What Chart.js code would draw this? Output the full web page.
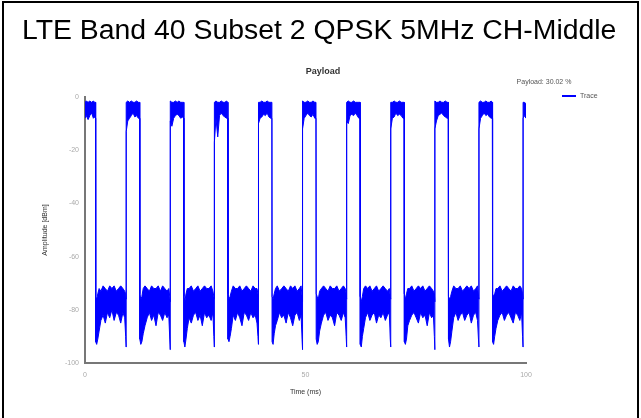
<!DOCTYPE html>
<html>
<head>
<meta charset="utf-8">
<script src="https://cdn.jsdelivr.net/npm/chart.js@4.4.0/dist/chart.umd.min.js"></script>
<style>
  html, body { margin: 0; padding: 0; background: #fff; }
  #frame { position: absolute; left: 2px; top: 1px; width: 633px; height: 430px; border: 2px solid #000; border-bottom: none; }
  #heading { position: absolute; left: 22px; top: 13px; font-family: "Liberation Sans", Arial, sans-serif; font-size: 28.4px; line-height: 32px; color: #000; white-space: nowrap; z-index: 2; }
  #wrap { position: absolute; left: 0; top: 0; width: 641px; height: 418px; z-index: 1; }
</style>
</head>
<body>
<div id="frame"></div>
<div id="heading">LTE Band 40 Subset 2 QPSK 5MHz CH-Middle</div>
<div id="wrap"><canvas id="payload-chart" width="641" height="418"></canvas></div>
<script>
// time axis (ms), one line per 10 ms frame
const times = [
    0, 0.3, 0.7, 1.1, 1.5, 1.9, 2.2, 2.38, 2.42, 2.65, 2.9, 3.2, 3.6, 4.1, 4.6, 5.1, 5.6, 6.1, 6.6, 7.1, 7.6, 8.1, 8.6, 9.0, 9.22, 9.32,
    9.34, 9.7, 10.1, 10.5, 10.9, 11.3, 11.7, 12.1, 12.38, 12.42, 12.65, 12.9, 13.2, 13.6, 14.1, 14.6, 15.1, 15.6, 16.1, 16.6, 17.1, 17.6, 18.1, 18.6, 19.0, 19.22, 19.32,
    19.34, 19.7, 20.1, 20.5, 20.9, 21.3, 21.7, 22.1, 22.38, 22.42, 22.65, 22.9, 23.2, 23.6, 24.1, 24.6, 25.1, 25.6, 26.1, 26.6, 27.1, 27.6, 28.1, 28.6, 29.0, 29.22, 29.32,
    29.34, 29.7, 30.1, 30.5, 30.9, 31.3, 31.7, 32.1, 32.38, 32.42, 32.65, 32.9, 33.2, 33.6, 34.1, 34.6, 35.1, 35.6, 36.1, 36.6, 37.1, 37.6, 38.1, 38.6, 39.0, 39.22, 39.32,
    39.34, 39.7, 40.1, 40.5, 40.9, 41.3, 41.7, 42.1, 42.38, 42.42, 42.65, 42.9, 43.2, 43.6, 44.1, 44.6, 45.1, 45.6, 46.1, 46.6, 47.1, 47.6, 48.1, 48.6, 49.0, 49.22, 49.32,
    49.34, 49.7, 50.1, 50.5, 50.9, 51.3, 51.7, 52.1, 52.38, 52.42, 52.65, 52.9, 53.2, 53.6, 54.1, 54.6, 55.1, 55.6, 56.1, 56.6, 57.1, 57.6, 58.1, 58.6, 59.0, 59.22, 59.32,
    59.34, 59.7, 60.1, 60.5, 60.9, 61.3, 61.7, 62.1, 62.38, 62.42, 62.65, 62.9, 63.2, 63.6, 64.1, 64.6, 65.1, 65.6, 66.1, 66.6, 67.1, 67.6, 68.1, 68.6, 69.0, 69.22, 69.32,
    69.34, 69.7, 70.1, 70.5, 70.9, 71.3, 71.7, 72.1, 72.38, 72.42, 72.65, 72.9, 73.2, 73.6, 74.1, 74.6, 75.1, 75.6, 76.1, 76.6, 77.1, 77.6, 78.1, 78.6, 79.0, 79.22, 79.32,
    79.34, 79.7, 80.1, 80.5, 80.9, 81.3, 81.7, 82.1, 82.38, 82.42, 82.65, 82.9, 83.2, 83.6, 84.1, 84.6, 85.1, 85.6, 86.1, 86.6, 87.1, 87.6, 88.1, 88.6, 89.0, 89.22, 89.32,
    89.34, 89.7, 90.1, 90.5, 90.9, 91.3, 91.7, 92.1, 92.38, 92.42, 92.65, 92.9, 93.2, 93.6, 94.1, 94.6, 95.1, 95.6, 96.1, 96.6, 97.1, 97.6, 98.1, 98.6, 99.0, 99.22, 99.32,
    99.34, 99.6, 100
];

// upper edge of the trace (dBm)
const traceTop = [
    -2, -1.5, -2, -1.5, -2, -1.5, -2, -2, -75, -76, -74, -72, -73, -71, -72, -73, -71, -72, -71, -73, -72, -71, -72, -73, -74, -76,
    -2, -1.5, -2, -1.5, -2, -2, -1.5, -2, -2, -74, -76, -75, -72, -71, -72, -73, -71, -72, -72, -71, -73, -71, -72, -73, -72, -75, -77,
    -1.5, -2, -2, -1.5, -2, -1.5, -2, -2, -2, -75, -77, -74, -72, -72, -71, -73, -72, -71, -73, -72, -71, -72, -72, -71, -73, -75, -76,
    -2, -1.5, -2, -2, -1.5, -2, -2, -1.5, -2, -74, -76, -75, -73, -71, -72, -72, -71, -73, -72, -71, -72, -73, -71, -72, -72, -74, -76,
    -2, -2, -1.5, -2, -2, -1.5, -2, -2, -2, -75, -76, -74, -72, -71, -73, -72, -71, -72, -73, -71, -72, -71, -73, -72, -71, -75, -77,
    -1.5, -2, -2, -1.5, -2, -2, -1.5, -2, -2, -74, -75, -76, -73, -72, -71, -72, -73, -71, -72, -72, -71, -73, -72, -71, -72, -74, -76,
    -2, -1.5, -2, -2, -1.5, -2, -2, -2, -2, -75, -77, -75, -72, -71, -72, -71, -73, -72, -71, -73, -72, -71, -72, -73, -72, -75, -76,
    -2, -2, -1.5, -2, -2, -1.5, -2, -2, -2, -74, -76, -74, -72, -72, -71, -73, -72, -71, -72, -71, -73, -72, -71, -72, -73, -74, -77,
    -1.5, -2, -2, -1.5, -2, -2, -1.5, -2, -2, -75, -76, -75, -73, -71, -72, -72, -71, -73, -72, -71, -72, -71, -73, -72, -71, -75, -76,
    -2, -1.5, -2, -2, -1.5, -2, -2, -1.5, -2, -74, -75, -74, -72, -72, -71, -73, -72, -71, -72, -73, -71, -72, -72, -71, -72, -74, -76,
    -2, -2, -2.5
];

// lower edge of the trace (dBm)
const traceBottom = [
    -8, -7, -8.5, -7, -6, -8, -7.5, -8, -92, -93, -91, -88, -84, -82, -85, -81, -83, -80, -84, -81, -82, -85, -81, -83, -90, -94,
    -13, -9, -8, -7, -6, -7.5, -7, -8, -8, -91, -93, -92, -89, -86, -83, -81, -84, -82, -86, -81, -82, -84, -81, -83, -82, -91, -95,
    -9, -11, -8, -7, -6.5, -7, -8, -7.5, -8, -92, -94, -91, -87, -83, -85, -82, -81, -84, -82, -86, -81, -83, -82, -84, -81, -90, -94,
    -17, -8, -15, -7, -6, -7, -7.5, -8, -8, -91, -92, -90, -87, -82, -84, -81, -83, -86, -81, -82, -84, -81, -83, -82, -85, -90, -93,
    -10, -8, -7.5, -6.5, -7, -6, -7.5, -8, -8, -92, -93, -89, -86, -84, -81, -83, -82, -85, -81, -83, -86, -82, -81, -84, -82, -91, -95,
    -12, -8, -7, -6, -7, -7.5, -6.5, -8, -8, -91, -93, -92, -88, -85, -82, -81, -84, -82, -83, -86, -81, -82, -84, -81, -83, -90, -94,
    -9, -10, -7, -6.5, -7, -6, -7, -8, -8, -93, -94, -90, -87, -83, -81, -84, -82, -81, -85, -82, -83, -81, -84, -82, -81, -91, -94,
    -12, -8, -7.5, -6, -7, -6.5, -7, -8, -8, -92, -93, -91, -86, -84, -82, -81, -83, -85, -81, -83, -82, -86, -81, -83, -82, -90, -95,
    -12, -9, -7, -6.5, -6, -7, -7.5, -8, -8, -91, -94, -92, -88, -83, -81, -84, -82, -81, -84, -82, -81, -85, -82, -81, -84, -91, -94,
    -12, -8, -7, -6, -7, -6.5, -7.5, -8, -8, -92, -93, -90, -87, -84, -82, -81, -84, -82, -81, -83, -85, -81, -82, -84, -81, -90, -94,
    -8, -7, -8
];

const xTicks = [0, 50, 100];
const yTicks = [0, -20, -40, -60, -80, -100];
const payloadText = 'Payload: 30.02 %';

const blue = 'rgb(0, 0, 255)';

// texts drawn around the plot: title, payload note and the legend line
const chartLabels = {
    id: 'chartLabels',
    afterDraw(chart) {
        const ctx = chart.ctx;
        ctx.save();
        ctx.textBaseline = 'middle';

        ctx.fillStyle = '#333';
        ctx.font = 'bold 9px "Liberation Sans", Arial, sans-serif';
        ctx.textAlign = 'center';
        ctx.fillText('Payload', 323, 72);

        ctx.fillStyle = '#555';
        ctx.font = '7px "Liberation Sans", Arial, sans-serif';
        ctx.fillText(payloadText, 544, 82);

        ctx.fillStyle = blue;
        ctx.fillRect(562, 95, 14, 2);
        ctx.fillStyle = '#555';
        ctx.textAlign = 'left';
        ctx.fillText(chart.data.datasets[0].label, 580, 96);
        ctx.restore();
    }
};

const ctx = document.getElementById('payload-chart').getContext('2d');
new Chart(ctx, {
    type: 'line',
    data: {
        datasets: [{
            label: 'Trace',
            data: times.map((t, i) => ({ x: t, y: traceTop[i] })),
            borderColor: blue,
            backgroundColor: blue,
            borderWidth: 1,
            pointRadius: 0,
            fill: '+1'
        }, {
            label: 'Trace low',
            data: times.map((t, i) => ({ x: t, y: traceBottom[i] })),
            borderColor: blue,
            backgroundColor: blue,
            borderWidth: 1,
            pointRadius: 0,
            fill: false
        }]
    },
    options: {
        responsive: false,
        animation: false,
        layout: { padding: { left: 38, right: 115, top: 97, bottom: 20 } },
        plugins: {
            legend: { display: false },
            title: { display: false },
            tooltip: { enabled: false }
        },
        scales: {
            x: {
                type: 'linear',
                min: 0,
                max: 100,
                afterFit: function (scale) { scale.height = 35; },
                afterBuildTicks: function (scale) { scale.ticks = xTicks.map(v => ({ value: v })); },
                grid: { display: false, drawTicks: false },
                border: { color: '#777', width: 2 },
                ticks: { color: '#aaa', padding: 8, font: { size: 7, family: '"Liberation Sans", Arial, sans-serif' } },
                title: { display: true, text: 'Time (ms)', color: '#333', padding: { top: 0, bottom: 2 }, font: { size: 7, family: '"Liberation Sans", Arial, sans-serif' } }
            },
            y: {
                min: -100,
                max: 0,
                afterFit: function (scale) { scale.width = 47; },
                afterBuildTicks: function (scale) { scale.ticks = yTicks.map(v => ({ value: v })); },
                grid: { display: false, drawTicks: false },
                border: { color: '#777', width: 2 },
                ticks: { color: '#aaa', padding: 6, font: { size: 7, family: '"Liberation Sans", Arial, sans-serif' } },
                title: { display: true, text: 'Amplitude [dBm]', color: '#333', padding: { top: 3, bottom: 0 }, font: { size: 7, family: '"Liberation Sans", Arial, sans-serif' } }
            }
        }
    },
    plugins: [chartLabels]
});
</script>
</body>
</html>
